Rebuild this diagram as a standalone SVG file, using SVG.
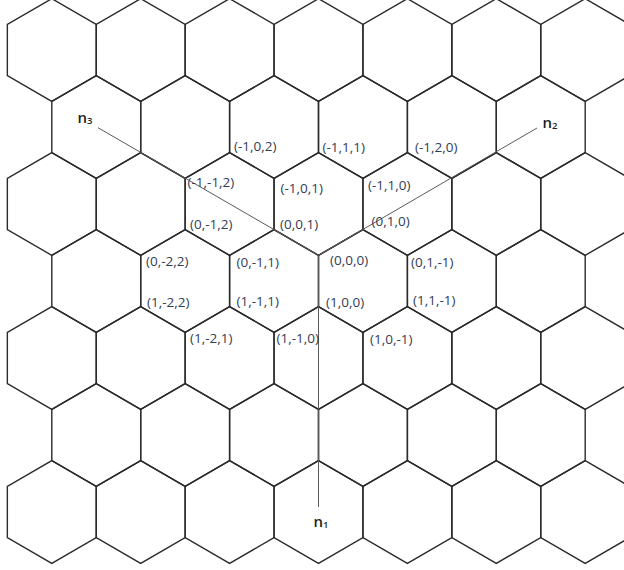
<svg xmlns="http://www.w3.org/2000/svg" xmlns:xlink="http://www.w3.org/1999/xlink" width="624" height="570" viewBox="0 0 624 570">
<style>
.cell{fill:none;stroke:#2b2b2b;stroke-width:1.4;stroke-linejoin:miter}
.axis{fill:none;stroke:#5a5a5a;stroke-width:1}
.lbl{font-family:"Open Sans","Liberation Sans",sans-serif;font-size:13.5px;fill:#323d55}
.n{font-family:"Open Sans","Liberation Sans",sans-serif;font-size:15px;font-weight:600;fill:#1e1e1e}
.sub{font-size:9.5px}
</style>
<defs>
<polygon id="hex" points="0,-51.33 44.45,-25.67 44.45,25.67 0,51.33 -44.45,25.67 -44.45,-25.67"/>
</defs>
<rect width="624" height="570" fill="#ffffff"/>
<g id="grid" class="cell">
<g id="row0">
<use xlink:href="#hex" x="51.8" y="50"/><use xlink:href="#hex" x="140.7" y="50"/><use xlink:href="#hex" x="229.6" y="50"/><use xlink:href="#hex" x="318.5" y="50"/><use xlink:href="#hex" x="407.4" y="50"/><use xlink:href="#hex" x="496.3" y="50"/><use xlink:href="#hex" x="585.2" y="50"/>
</g>
<g id="row1">
<use xlink:href="#hex" x="96.25" y="127"/><use xlink:href="#hex" x="185.15" y="127"/><use xlink:href="#hex" x="274.05" y="127"/><use xlink:href="#hex" x="362.95" y="127"/><use xlink:href="#hex" x="451.85" y="127"/><use xlink:href="#hex" x="540.75" y="127"/>
</g>
<g id="row2">
<use xlink:href="#hex" x="51.8" y="204"/><use xlink:href="#hex" x="140.7" y="204"/><use xlink:href="#hex" x="229.6" y="204"/><use xlink:href="#hex" x="318.5" y="204"/><use xlink:href="#hex" x="407.4" y="204"/><use xlink:href="#hex" x="496.3" y="204"/><use xlink:href="#hex" x="585.2" y="204"/>
</g>
<g id="row3">
<use xlink:href="#hex" x="96.25" y="281"/><use xlink:href="#hex" x="185.15" y="281"/><use xlink:href="#hex" x="274.05" y="281"/><use xlink:href="#hex" x="362.95" y="281"/><use xlink:href="#hex" x="451.85" y="281"/><use xlink:href="#hex" x="540.75" y="281"/>
</g>
<g id="row4">
<use xlink:href="#hex" x="51.8" y="358"/><use xlink:href="#hex" x="140.7" y="358"/><use xlink:href="#hex" x="229.6" y="358"/><use xlink:href="#hex" x="318.5" y="358"/><use xlink:href="#hex" x="407.4" y="358"/><use xlink:href="#hex" x="496.3" y="358"/><use xlink:href="#hex" x="585.2" y="358"/>
</g>
<g id="row5">
<use xlink:href="#hex" x="96.25" y="435"/><use xlink:href="#hex" x="185.15" y="435"/><use xlink:href="#hex" x="274.05" y="435"/><use xlink:href="#hex" x="362.95" y="435"/><use xlink:href="#hex" x="451.85" y="435"/><use xlink:href="#hex" x="540.75" y="435"/>
</g>
<g id="row6">
<use xlink:href="#hex" x="51.8" y="512"/><use xlink:href="#hex" x="140.7" y="512"/><use xlink:href="#hex" x="229.6" y="512"/><use xlink:href="#hex" x="318.5" y="512"/><use xlink:href="#hex" x="407.4" y="512"/><use xlink:href="#hex" x="496.3" y="512"/><use xlink:href="#hex" x="585.2" y="512"/>
</g>
</g>
<g id="connectors" class="axis">
<line id="axis-n1" x1="318.5" y1="255.3" x2="318.5" y2="507"/>
<line id="axis-n2" x1="318.5" y1="255.3" x2="537" y2="128"/>
<line id="axis-n3" x1="318.5" y1="255.3" x2="98" y2="127.7"/>
</g>
<g id="axis-labels">
<text id="n1" class="n" x="313.5" y="527">n<tspan class="sub" dy="0.5">1</tspan></text>
<text id="n2" class="n" x="542.5" y="128">n<tspan class="sub" dy="0.5">2</tspan></text>
<text id="n3" class="n" x="77.5" y="123">n<tspan class="sub" dy="0.5">3</tspan></text>
</g>
<g id="vertex-labels" class="lbl">
<text x="234" y="150.5">(-1,0,2)</text>
<text x="322.5" y="151.5">(-1,1,1)</text>
<text x="415" y="152">(-1,2,0)</text>
<text x="187.5" y="187">(-1,-1,2)</text>
<text x="280.5" y="193">(-1,0,1)</text>
<text x="368" y="190">(-1,1,0)</text>
<text x="190" y="229">(0,-1,2)</text>
<text x="280" y="229">(0,0,1)</text>
<text x="371.5" y="226">(0,1,0)</text>
<text x="146" y="266">(0,-2,2)</text>
<text x="236.5" y="267">(0,-1,1)</text>
<text x="330" y="265">(0,0,0)</text>
<text x="411" y="266.5">(0,1,-1)</text>
<text x="147" y="306.5">(1,-2,2)</text>
<text x="236.5" y="306">(1,-1,1)</text>
<text x="326" y="306.5">(1,0,0)</text>
<text x="413" y="304.5">(1,1,-1)</text>
<text x="190" y="343">(1,-2,1)</text>
<text x="276.5" y="343">(1,-1,0)</text>
<text x="370" y="344">(1,0,-1)</text>
</g>
</svg>
